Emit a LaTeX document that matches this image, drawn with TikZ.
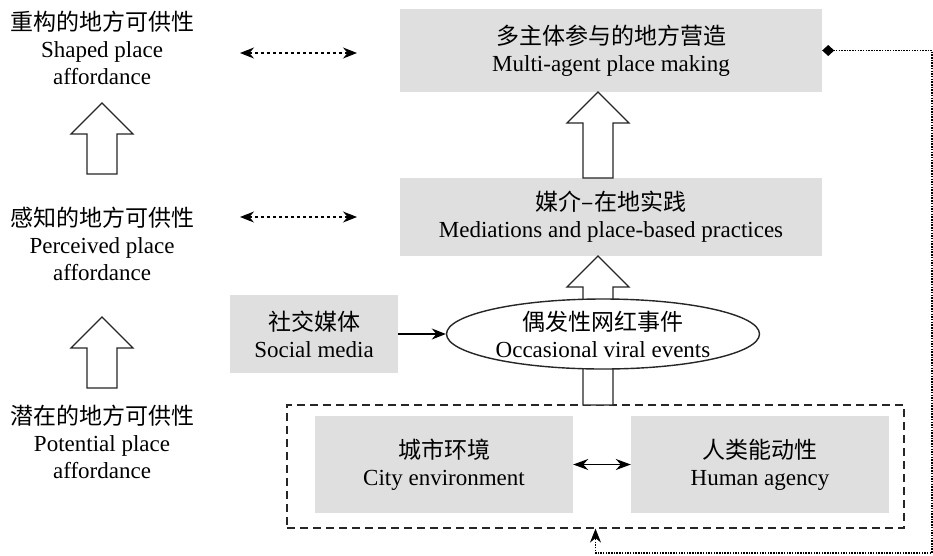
\documentclass[tikz,border=0pt]{standalone}
\usepackage{fontspec}
\setmainfont{Liberation Serif}
\newfontfamily\cjk{Noto Sans CJK SC}
\usetikzlibrary{arrows.meta,shapes.geometric}
\definecolor{boxgrey}{HTML}{DFDFE0}
\tikzset{
  greybox/.style={fill=boxgrey,align=center,inner sep=0pt},
  levellabel/.style={align=center,inner sep=0pt},
  bigarrow/.style={draw=black!85,line width=1.3pt,fill=white},
  twoway/.style={{Stealth[length=14pt,width=11pt]}-{Stealth[length=14pt,width=11pt]},line width=1.2pt,dash pattern=on 3pt off 3pt},
}
\begin{document}
\begin{tikzpicture}[x=1pt,y=-1pt,font=\fontsize{23}{27}\selectfont]
\useasboundingbox (0,0) rectangle (933,555);
% levels of affordance
\node[levellabel] (shaped) at (102,48) {{\cjk 重构的地方可供性}\\Shaped place\\affordance};
\node[levellabel] (perceived) at (102,244) {{\cjk 感知的地方可供性}\\Perceived place\\affordance};
\node[levellabel] (potential) at (102,442) {{\cjk 潜在的地方可供性}\\Potential place\\affordance};
% boxes
\node[greybox,minimum width=422,minimum height=83] (making) at (611,50.5) {{\cjk 多主体参与的地方营造}\\Multi-agent place making};
\node[greybox,minimum width=422,minimum height=78] (mediation) at (611,217) {{\cjk 媒介–在地实践}\\Mediations and place-based practices};
\node[greybox,minimum width=168,minimum height=78] (social) at (314,334) {{\cjk 社交媒体}\\Social media};
\node[draw=black!85,line width=1.2pt,dash pattern=on 8pt off 5pt,minimum width=617,minimum height=123] (base) at (595.5,466.5) {};
\node[greybox,minimum width=258,minimum height=97] (city) at (444,464.5) {{\cjk 城市环境}\\City environment};
\node[greybox,minimum width=258,minimum height=97] (human) at (760,464.5) {{\cjk 人类能动性}\\Human agency};
% block arrows
\foreach\x/\tip/\bot in {102/103/174,102/317/388,598/92/178,598/256/405}{
 \draw[bigarrow] (\x-15,\bot) -- (\x-15,\tip+31) -- (\x-31,\tip+31) -- (\x,\tip) -- (\x+31,\tip+31) -- (\x+15,\tip+31) -- (\x+15,\bot) -- cycle;
}
\node[ellipse,draw=black!85,line width=1.4pt,fill=white,align=center,inner sep=0pt,minimum width=313,minimum height=70] (viral) at (603,334) {{\cjk 偶发性网红事件}\\Occasional viral events};
% connectors
\coordinate (sl) at (240,53); \coordinate (sr) at (357,53);
\coordinate (pl) at (240,217); \coordinate (pr) at (357,217);
\draw[twoway] (sl) -- (sr);
\draw[twoway] (pl) -- (pr);
\draw[-{Stealth[length=14pt,width=11pt]},line width=1.2pt] (social) -- (viral);
\draw[{Stealth[length=15pt,width=11pt]}-{Stealth[length=15pt,width=11pt]},line width=1.2pt] (city) -- (human);
\coordinate (corner) at (932,553);
\draw[{Diamond[length=12pt,width=11pt]}-{Stealth[length=14pt,width=11pt]},line width=1.3pt,dash pattern=on 1.5pt off 1.2pt] (making.east) -| (corner) -| (base.south);
\end{tikzpicture}
\end{document}
